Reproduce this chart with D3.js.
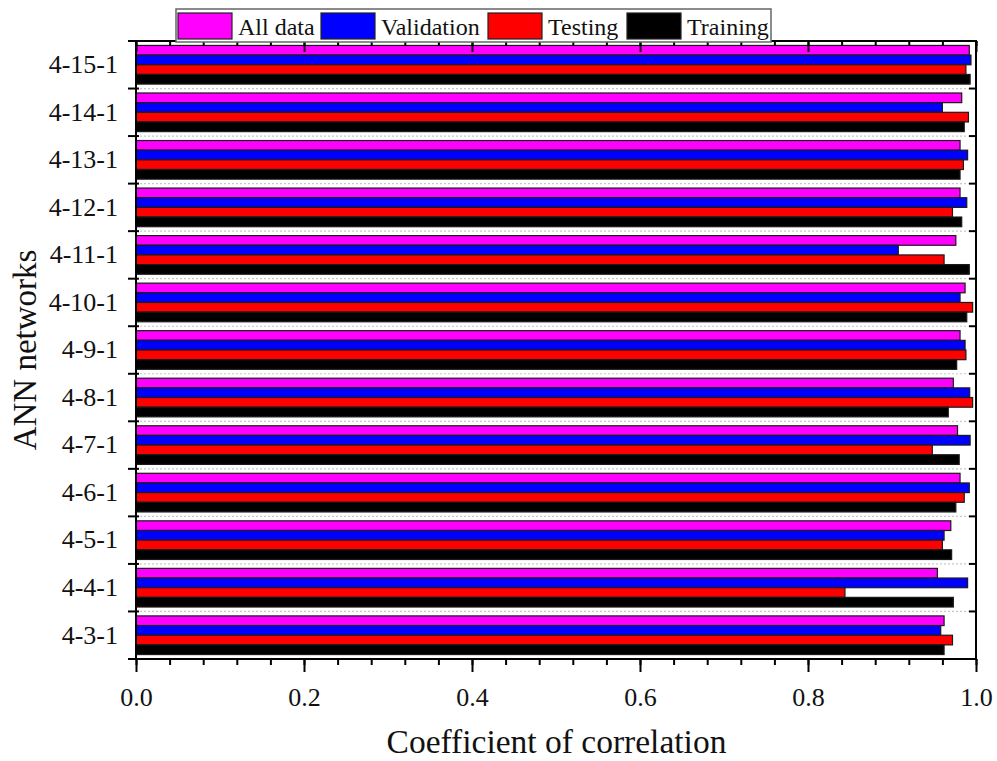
<!DOCTYPE html>
<html>
<head>
<meta charset="utf-8">
<script src="https://cdn.jsdelivr.net/npm/d3@7/dist/d3.min.js"></script>
<style>
  html, body { margin: 0; padding: 0; background: #fff; }
  svg { display: block; }
  text { font-family: "Liberation Serif", "Times New Roman", serif; fill: #111; }
</style>
</head>
<body>
<svg id="chart" width="997" height="761"></svg>
<script>
// Network architectures (bottom to top)
const categories = ["4-3-1", "4-4-1", "4-5-1", "4-6-1", "4-7-1", "4-8-1", "4-9-1",
                    "4-10-1", "4-11-1", "4-12-1", "4-13-1", "4-14-1", "4-15-1"];

// Series, drawn top to bottom inside each group
const seriesNames  = ["All data", "Validation", "Testing", "Training"];
const seriesColors = ["#ff00ff", "#0000ff", "#ff0000", "#000000"];

// Correlation coefficients per network, in category order
const allData    = [0.962, 0.954, 0.970, 0.981, 0.978, 0.973, 0.981, 0.987, 0.976, 0.981, 0.981, 0.983, 0.992];
const validation = [0.958, 0.990, 0.962, 0.992, 0.993, 0.9925, 0.987, 0.981, 0.9075, 0.989, 0.990, 0.960, 0.994];
const testing    = [0.972, 0.844, 0.960, 0.986, 0.948, 0.996, 0.988, 0.996, 0.962, 0.972, 0.985, 0.991, 0.988];
const training   = [0.962, 0.973, 0.971, 0.976, 0.980, 0.967, 0.977, 0.989, 0.992, 0.983, 0.981, 0.986, 0.993];

const xMajorTicks = [0.0, 0.2, 0.4, 0.6, 0.8, 1.0];
const xTitle = "Coefficient of correlation";
const yTitle = "ANN networks";

const seriesValues = [allData, validation, testing, training];

const margin = { left: 136, right: 976, top: 41, bottom: 659 };
const svg = d3.select("#chart");

svg.append("rect").attr("width", 997).attr("height", 761).attr("fill", "#fff");

const x = d3.scaleLinear().domain([0, 1]).range([margin.left, margin.right]);
const y = d3.scaleBand().domain(categories).range([margin.bottom, margin.top]).padding(0);
const inner = d3.scaleBand().domain(seriesNames).range([0, y.bandwidth()])
  .paddingInner(0).paddingOuter(0.46);

// Dotted separators between groups
const boundaries = categories.slice(1).map(c => y(c) + y.bandwidth());
svg.append("g").selectAll("line").data(boundaries).join("line")
  .attr("x1", margin.left).attr("x2", margin.right)
  .attr("y1", d => d).attr("y2", d => d)
  .attr("stroke", "#c8c8c8").attr("stroke-width", 1.2)
  .attr("stroke-dasharray", "2,2");

// Bars
const rows = [];
categories.forEach((c, i) => {
  seriesNames.forEach((s, j) => rows.push({ cat: c, series: s, value: seriesValues[j][i], color: seriesColors[j] }));
});
svg.append("g").selectAll("rect").data(rows).join("rect")
  .attr("x", x(0))
  .attr("y", d => y(d.cat) + inner(d.series))
  .attr("width", d => x(d.value) - x(0))
  .attr("height", inner.bandwidth())
  .attr("fill", d => d.color)
  .attr("stroke", "#1a1a1a").attr("stroke-width", 1.2);

// Minor tick values every 0.04
const minorTicks = d3.range(0, 1.0001, 0.04).map(v => +v.toFixed(2));

// Bottom axis (outward ticks)
svg.append("g").attr("transform", `translate(0,${margin.bottom})`)
  .call(d3.axisBottom(x).tickValues(minorTicks).tickSize(6).tickFormat(""))
  .call(g => g.select(".domain").remove())
  .call(g => g.selectAll("line").attr("stroke", "#000").attr("stroke-width", 2));
svg.append("g").attr("transform", `translate(0,${margin.bottom})`)
  .call(d3.axisBottom(x).tickValues(xMajorTicks).tickSize(13).tickPadding(16).tickFormat(d3.format(".1f")))
  .call(g => g.select(".domain").remove())
  .call(g => g.selectAll("line").attr("stroke", "#000").attr("stroke-width", 2))
  .call(g => g.selectAll("text").attr("font-size", 26).attr("font-family", "Liberation Serif").attr("fill", "#111"));

// Top axis (inward ticks)
svg.append("g").attr("transform", `translate(0,${margin.top})`)
  .call(d3.axisTop(x).tickValues(minorTicks).tickSize(-5).tickFormat(""))
  .call(g => g.select(".domain").remove())
  .call(g => g.selectAll("line").attr("stroke", "#000").attr("stroke-width", 2));
svg.append("g").attr("transform", `translate(0,${margin.top})`)
  .call(d3.axisTop(x).tickValues(xMajorTicks).tickSize(-11).tickFormat(""))
  .call(g => g.select(".domain").remove())
  .call(g => g.selectAll("line").attr("stroke", "#000").attr("stroke-width", 2));

// Left axis: category labels, ticks at group boundaries
svg.append("g").attr("transform", `translate(${margin.left},0)`)
  .call(d3.axisLeft(y).tickSize(0).tickPadding(18))
  .call(g => g.select(".domain").remove())
  .call(g => g.selectAll("text").attr("font-size", 26).attr("font-family", "Liberation Serif").attr("fill", "#111"));
const allBounds = [margin.top, ...boundaries, margin.bottom];
svg.append("g").selectAll("line").data(allBounds).join("line")
  .attr("x1", margin.left - 8).attr("x2", margin.left + 3)
  .attr("y1", d => d).attr("y2", d => d)
  .attr("stroke", "#000").attr("stroke-width", 2);

// Right axis: inward ticks at group boundaries
svg.append("g").selectAll("line").data(boundaries).join("line")
  .attr("x1", margin.right - 7).attr("x2", margin.right)
  .attr("y1", d => d).attr("y2", d => d)
  .attr("stroke", "#000").attr("stroke-width", 2);

// Frame
svg.append("rect")
  .attr("x", margin.left).attr("y", margin.top)
  .attr("width", margin.right - margin.left).attr("height", margin.bottom - margin.top)
  .attr("fill", "none").attr("stroke", "#000").attr("stroke-width", 2);

// Axis titles
svg.append("text")
  .attr("x", (margin.left + margin.right) / 2 + 0.5).attr("y", 753)
  .attr("text-anchor", "middle").attr("font-size", 33.5)
  .text(xTitle);
svg.append("text")
  .attr("transform", `translate(36,${(margin.top + margin.bottom) / 2}) rotate(-90)`)
  .attr("text-anchor", "middle").attr("font-size", 33)
  .text(yTitle);

// Legend: fixed slots for each entry inside a framed box
const legendSlots = [2, 145, 312, 451];
const legend = svg.append("g").attr("transform", "translate(176,9)");
legend.append("rect")
  .attr("x", 0).attr("y", 0).attr("width", 595).attr("height", 33)
  .attr("fill", "#fff").attr("stroke", "#666").attr("stroke-width", 1.5);
seriesNames.forEach((name, j) => {
  const sx = legendSlots[j];
  legend.append("rect")
    .attr("x", sx).attr("y", 4).attr("width", 54).attr("height", 26)
    .attr("fill", seriesColors[j]).attr("stroke", "#222").attr("stroke-width", 1.2);
  legend.append("text")
    .attr("x", sx + 60).attr("y", 25.5)
    .attr("font-size", 24)
    .text(name);
});
</script>
</body>
</html>
